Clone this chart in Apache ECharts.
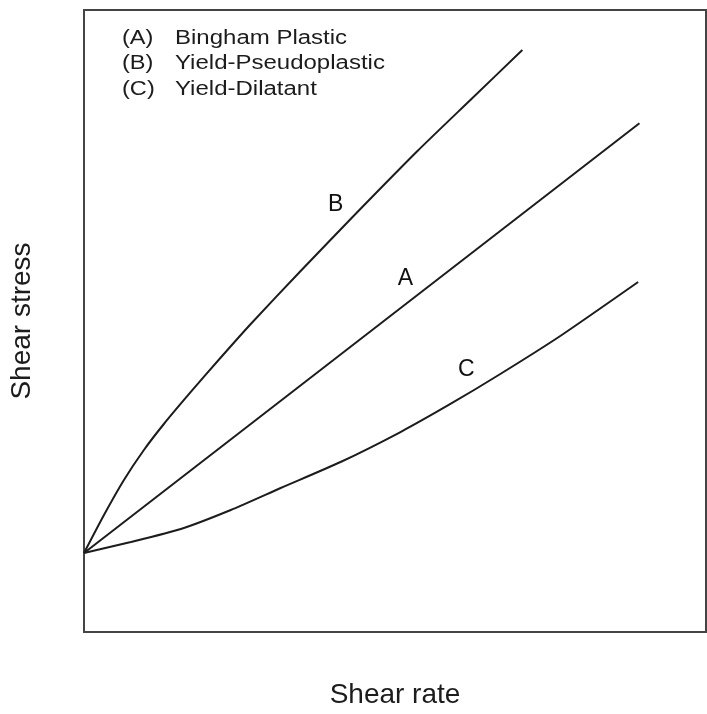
<!DOCTYPE html>
<html>
<head>
<meta charset="utf-8">
<script src="https://cdn.jsdelivr.net/npm/echarts@6/dist/echarts.min.js"></script>
<style>
  html, body { margin: 0; padding: 0; background: #fff; }
  #chart { width: 707px; height: 714px; }
</style>
</head>
<body>
<div id="chart"></div>
<script>
// Flow curves (shear stress vs shear rate), arbitrary units
const rateA = [0, 8.93];
const stressA = [1.27, 8.18];

const rateB = [0, 0.321, 0.642, 0.963, 1.284, 1.717, 2.199, 2.681, 3.483, 4.318, 5.361, 6.212, 7.047];
const stressB = [1.27, 1.881, 2.444, 2.926, 3.344, 3.859, 4.413, 4.952, 5.804, 6.672, 7.733, 8.553, 9.357];

const rateC = [0, 0.754, 1.557, 2.360, 3.162, 4.125, 5.088, 5.891, 6.693, 7.657, 8.909];
const stressC = [1.27, 1.447, 1.656, 1.961, 2.315, 2.733, 3.215, 3.666, 4.148, 4.759, 5.627];

// Curve tags and where they sit
const curveTags = ['A', 'B', 'C'];
const tagRate = [5.168, 4.045, 6.148];
const tagStress = [5.675, 6.865, 4.212];

// Key text
const keyCodes = ['(A)', '(B)', '(C)'];
const keyNames = ['Bingham Plastic', 'Yield-Pseudoplastic', 'Yield-Dilatant'];

const FONT = "'Liberation Sans', Arial, sans-serif";
const INK = '#1c1c1c';
const FRAME = '#444';

const zip = (xs, ys) => xs.map((x, i) => [x, ys[i]]);

const curve = (name, xs, ys) => ({
  name,
  type: 'line',
  data: zip(xs, ys),
  showSymbol: false,
  symbol: 'none',
  smooth: 0.2,
  lineStyle: { color: INK, width: 2 },
  silent: true
});

const keyGraphics = [];
keyCodes.forEach((code, i) => {
  const y = 38 + i * 25.5;
  keyGraphics.push({
    type: 'text', x: 122, y, scaleX: 1.18,
    style: { text: code, font: '20px ' + FONT, fill: INK, textVerticalAlign: 'middle' }
  });
  keyGraphics.push({
    type: 'text', x: 175, y, scaleX: 1.2,
    style: { text: keyNames[i], font: '20px ' + FONT, fill: INK, textVerticalAlign: 'middle' }
  });
});

const chart = echarts.init(document.getElementById('chart'));
chart.setOption({
  backgroundColor: '#fff',
  animation: false,
  grid: {
    left: 83, right: 1, top: 10, bottom: 82,
    show: true, borderColor: FRAME, borderWidth: 2, backgroundColor: 'transparent'
  },
  xAxis: {
    type: 'value', min: 0, max: 10,
    name: 'Shear rate', nameLocation: 'middle', nameGap: 49,
    nameTextStyle: { fontFamily: FONT, fontSize: 28, color: INK },
    axisLine: { show: true, lineStyle: { color: FRAME, width: 2 } },
    axisTick: { show: false }, axisLabel: { show: false }, splitLine: { show: false }
  },
  yAxis: {
    type: 'value', min: 0, max: 10,
    name: 'Shear stress', nameLocation: 'middle', nameGap: 48, nameRotate: 90,
    nameTextStyle: { fontFamily: FONT, fontSize: 28, color: INK },
    axisLine: { show: true, lineStyle: { color: FRAME, width: 2 } },
    axisTick: { show: false }, axisLabel: { show: false }, splitLine: { show: false }
  },
  series: [
    curve('A', rateA, stressA),
    curve('B', rateB, stressB),
    curve('C', rateC, stressC),
    {
      type: 'scatter',
      symbolSize: 1,
      silent: true,
      itemStyle: { color: 'rgba(0,0,0,0)', opacity: 1 },
      data: zip(tagRate, tagStress).map((p, i) => ({ value: p, name: curveTags[i] })),
      label: {
        show: true, position: 'inside', formatter: '{b}',
        fontFamily: FONT, fontSize: 23, color: '#111', opacity: 1,
        textBorderWidth: 0
      }
    }
  ],
  graphic: keyGraphics
});
</script>
</body>
</html>
